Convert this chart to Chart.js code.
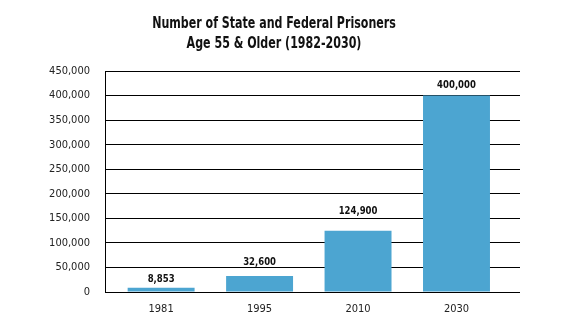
<!DOCTYPE html>
<html>
<head>
<meta charset="utf-8">
<script src="https://cdn.jsdelivr.net/npm/chart.js@4"></script>
<style>
  html, body { margin: 0; padding: 0; background: #fff; }
  #wrap { width: 574px; height: 323px; }
</style>
</head>
<body>
<div id="wrap"><canvas id="chart"></canvas></div>
<script>
// Valeurs
const years = ['1981', '1995', '2010', '2030'];
const prisoners = [8853, 32600, 124900, 400000];
const titleLines = ['Number of State and Federal Prisoners', 'Age 55 & Older (1982-2030)'];

const fontFamily = "'DejaVu Sans Condensed', 'DejaVu Sans', sans-serif";

// titre resserré horizontalement (police condensée dans l'original)
const titlePlugin = {
    id: 'titleText',
    afterDraw(chart) {
        const ctx = chart.ctx;
        ctx.save();
        ctx.fillStyle = '#111';
        ctx.font = 'bold 15px ' + fontFamily;
        ctx.textAlign = 'center';
        ctx.textBaseline = 'alphabetic';
        ctx.translate(274, 0);
        ctx.scale(0.82, 1);
        ctx.fillText(titleLines[0], 0, 28);
        ctx.fillText(titleLines[1], 0, 48);
        ctx.restore();
    }
};

// étiquettes de valeur au-dessus des barres (écart pas régulier dans l'original)
const labelGap = [6, 11, 17, 8];
const valueLabels = {
    id: 'valueLabels',
    afterDatasetsDraw(chart) {
        const ctx = chart.ctx;
        const meta = chart.getDatasetMeta(0);
        ctx.save();
        ctx.fillStyle = '#111';
        ctx.font = 'bold 11px ' + fontFamily;
        ctx.textAlign = 'center';
        ctx.textBaseline = 'alphabetic';
        meta.data.forEach((bar, i) => {
            ctx.save();
            ctx.translate(bar.x, bar.y - labelGap[i]);
            ctx.scale(0.86, 1);
            ctx.fillText(prisoners[i].toLocaleString('en-US'), 0, 0);
            ctx.restore();
        });
        ctx.restore();
    }
};

new Chart(document.getElementById('chart'), {
    type: 'bar',
    data: {
        datasets: [{
            data: prisoners.map((v, i) => ({ x: i, y: v })),
            backgroundColor: '#4ca5d1',
            borderWidth: 0,
            categoryPercentage: 1.0,
            barPercentage: 0.68
        }]
    },
    options: {
        responsive: true,
        maintainAspectRatio: false,
        animation: false,
        layout: { padding: { left: 0, top: 71, right: 54, bottom: 0 } },
        plugins: {
            legend: { display: false },
            tooltip: { enabled: false },
            title: { display: false }
        },
        scales: {
            x: {
                type: 'linear',
                offset: false,
                min: -0.57,
                max: 3.645,
                grid: { display: false, drawTicks: false, offset: false },
                border: { display: false },
                afterBuildTicks(scale) {
                    scale.ticks = years.map((y, i) => ({ value: i }));
                },
                ticks: {
                    color: '#222',
                    font: { family: fontFamily, size: 11 },
                    padding: 11,
                    callback: v => years[v]
                },
                afterFit(scale) { scale.height = 31; }
            },
            y: {
                min: 0,
                max: 450000,
                grid: { color: '#000', lineWidth: 1, drawTicks: false },
                border: { display: true, color: '#000', width: 1 },
                ticks: {
                    stepSize: 50000,
                    color: '#222',
                    font: { family: fontFamily, size: 11 },
                    padding: 15,
                    callback: v => v.toLocaleString('en-US')
                },
                afterFit(scale) { scale.width = 105; }
            }
        }
    },
    plugins: [titlePlugin, valueLabels]
});
</script>
</body>
</html>
